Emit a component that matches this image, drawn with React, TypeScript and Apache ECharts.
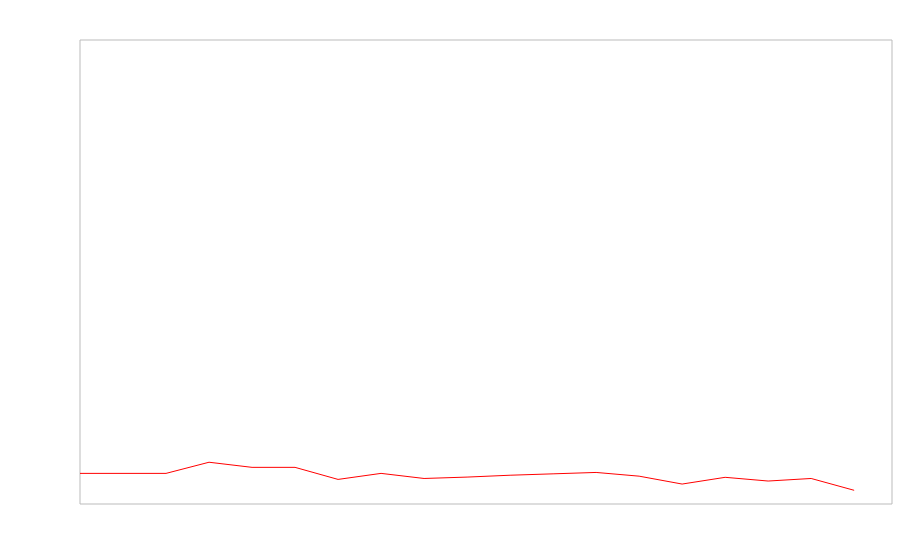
import React, { useEffect, useRef } from "react";
import * as echarts from "echarts";

const xIndex: number[] = [
  0, 1, 2, 3, 4, 5, 6, 7, 8, 9,
  10, 11, 12, 13, 14, 15, 16, 17, 18,
];
const values: number[] = [
  6.6, 6.6, 6.6, 9.0, 7.9, 7.9, 5.3, 6.6, 5.5, 5.8,
  6.2, 6.5, 6.8, 6.0, 4.3, 5.75, 4.95, 5.5, 2.95,
];
const xMax = 18.88;

export default function App() {
  const ref = useRef<HTMLDivElement>(null);
  useEffect(() => {
    if (!ref.current) return;
    const chart = echarts.init(ref.current, null, { renderer: "svg" });
    chart.setOption({
      animation: false,
      backgroundColor: "#ffffff",
      grid: {
        show: true,
        left: 80,
        top: 40,
        right: 8,
        bottom: 56,
        borderColor: "#bbbbbb",
        borderWidth: 1,
        backgroundColor: "transparent",
      },
      xAxis: {
        type: "value",
        min: 0,
        max: xMax,
        show: false,
        splitLine: { show: false },
      },
      yAxis: {
        type: "value",
        min: 0,
        max: 100,
        show: false,
        splitLine: { show: false },
      },
      series: [
        {
          type: "line",
          data: xIndex.map((x, i) => [x, values[i]]),
          showSymbol: false,
          symbol: "none",
          lineStyle: { color: "#ff0000", width: 1 },
          itemStyle: { color: "#ff0000" },
        },
      ],
    });
    return () => chart.dispose();
  }, []);
  return (
    <div
      ref={ref}
      style={{ position: "absolute", left: 0, top: 0, width: 900, height: 560 }}
    />
  );
}
